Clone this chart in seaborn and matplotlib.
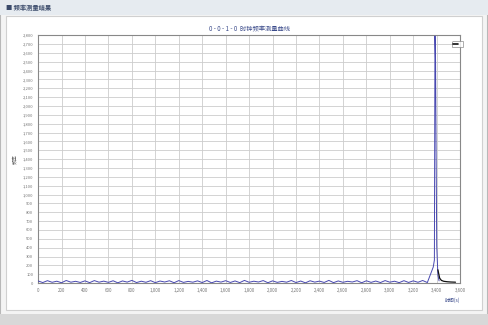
import numpy as np
import pandas as pd
import matplotlib
matplotlib.use("Agg")
import matplotlib.pyplot as plt
from matplotlib.patches import Rectangle
import seaborn as sns

# Frequency counter readings: baseline samples every 40 units, then the burst
baseline_counts = [24, 6, 27, 9, 21, 4, 29, 10, 20, 7, 25, 5, 28, 10, 22, 8,
                   26, 3, 24, 11, 30, 6, 21, 9, 27, 5, 23, 12, 26, 4, 28, 8,
                   19, 10, 25, 6, 29, 3, 22, 11, 27, 7, 24, 5, 30, 9, 21, 12,
                   28, 4, 25, 8, 19, 10, 29, 6, 23, 3, 26, 11, 22, 7, 30, 5,
                   24, 9, 20, 12, 27, 4, 26, 8, 23, 6, 28, 10, 21, 5, 27, 7,
                   25, 9, 29, 6]
burst_x = [3370, 3380, 3385, 3390, 3395, 3400, 3410, 3420]
burst_y = [180, 260, 2790, 2500, 1400, 420, 90, 25]
tail_x = [3410, 3425, 3440, 3460, 3490, 3520, 3560]
tail_y = [150, 55, 30, 20, 15, 12, 10]

x_ticks = list(range(0, 3601, 200))
y_ticks = list(range(0, 2801, 100))

base_x = [i * 40 for i in range(len(baseline_counts))]
main = pd.DataFrame({"x": base_x + burst_x, "y": baseline_counts + burst_y})
tail = pd.DataFrame({"x": tail_x, "y": tail_y})

sns.set_style("whitegrid")
plt.rcParams["font.family"] = ["Noto Sans CJK SC", "DejaVu Sans"]

fig = plt.figure(figsize=(4.88, 3.25), dpi=100)
fig.patch.set_facecolor("#ffffff")

# window chrome
fig.patches.append(Rectangle((0, 0), 1, 1, transform=fig.transFigure,
                             facecolor="#f4f4f4", edgecolor="#b8b8b8", lw=1.5, zorder=-5))
fig.patches.append(Rectangle((0.012, 0.045), 0.976, 0.905, transform=fig.transFigure,
                             facecolor="white", edgecolor="#d0d0d0", lw=0.8, zorder=-4))
fig.patches.append(Rectangle((0, 0.955), 1, 0.045, transform=fig.transFigure,
                             facecolor="#e6ebf0", edgecolor="none", zorder=-3))
fig.patches.append(Rectangle((0, 0.0), 1, 0.035, transform=fig.transFigure,
                             facecolor="#d8d8d8", edgecolor="none", zorder=-3))
fig.text(0.012, 0.977, "■ 频率测量结果", fontsize=4.5, color="#3a4a6a",
         va="center", ha="left", weight="bold")

ax = fig.add_axes([0.078, 0.129, 0.865, 0.763])
ax.set_facecolor("white")
sns.lineplot(data=main, x="x", y="y", ax=ax, color="#4848b0", lw=0.7, zorder=3)
sns.lineplot(data=tail, x="x", y="y", ax=ax, color="#111111", lw=0.9, zorder=4)

ax.set_xlim(0, 3600)
ax.set_ylim(0, 2800)
ax.set_xticks(x_ticks)
ax.set_yticks(y_ticks)
ax.set_xticklabels([f"{v:,}" for v in x_ticks], fontsize=3.2, color="#555555")
ax.set_yticklabels([f"{v:,}" for v in y_ticks], fontsize=3.0, color="#555555")
ax.tick_params(length=1.5, pad=2, colors="#777777")
ax.grid(True, color="#cccccc", lw=0.6)
for s in ax.spines.values():
    s.set_color("#888888")
    s.set_linewidth(0.8)
ax.set_xlabel("时间(s)", fontsize=3.5, color="#3a4a8a", loc="right", labelpad=3)
ax.set_ylabel("频率", fontsize=3.5, color="#555555", labelpad=4)
ax.set_title("0 - 0 - 1 - 0  时钟频率测量曲线", fontsize=4.5, color="#3a4a8a", pad=3)

# small legend box at the upper right corner
lg = ax.legend(handles=[plt.Line2D([], [], color="#111111", lw=1.2)], labels=[" "],
               loc="upper left", bbox_to_anchor=(0.975, 0.985), fontsize=3,
               handlelength=1.2, borderpad=0.3, frameon=True)
lg.get_frame().set_edgecolor("#888888")
lg.get_frame().set_linewidth(0.6)

fig.savefig("out.png", dpi=100)
